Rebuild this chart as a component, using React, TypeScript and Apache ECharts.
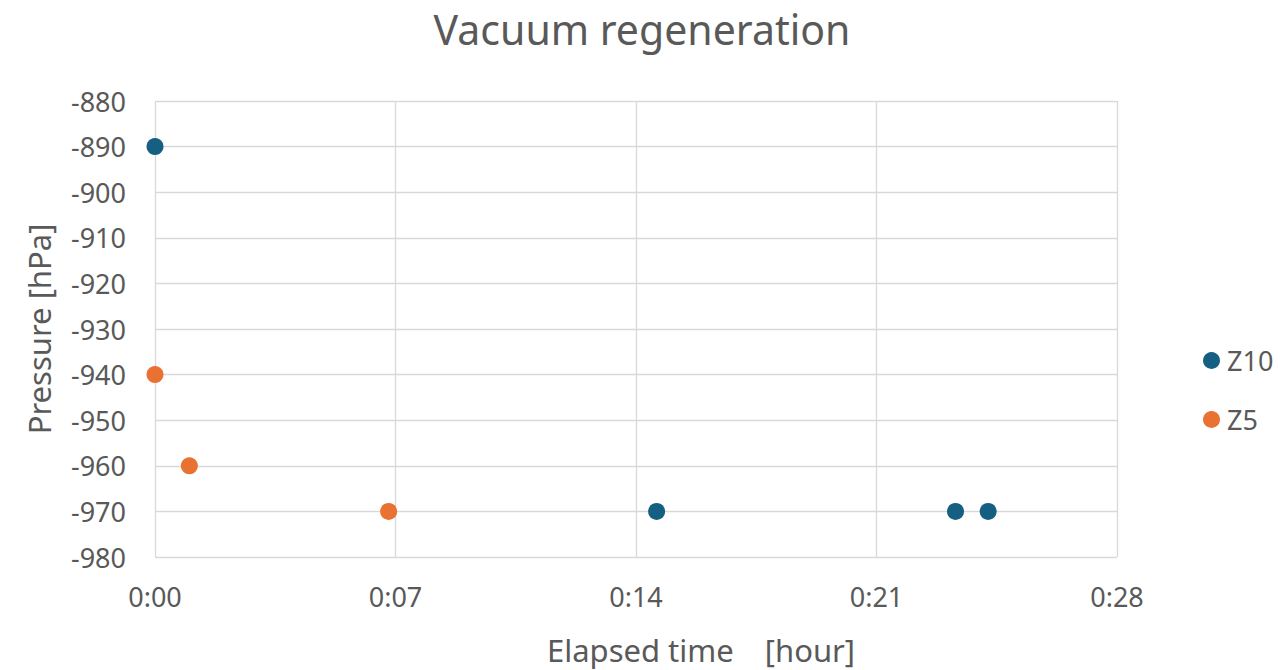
import React, { useEffect, useRef } from "react";
import * as echarts from "echarts";

// Elapsed time in minutes, pressure in hPa
const z10Minutes = [0, 14.6, 23.3, 24.25];
const z10Pressure = [-890, -970, -970, -970];
const z5Minutes = [0, 1, 6.8];
const z5Pressure = [-940, -960, -970];

const seriesNames = ["Z10", "Z5"];
const seriesColors = ["#156082", "#E97132"];

const FONT = "'Noto Sans', 'Open Sans', sans-serif";
const TEXT = "#595959";

const fmtTime = (v: number) => {
  const h = Math.floor(v / 60);
  const m = Math.round(v - h * 60);
  return `${h}:${m < 10 ? "0" + m : m}`;
};

export default function App() {
  const ref = useRef<HTMLDivElement>(null);

  useEffect(() => {
    if (!ref.current) return;
    const chart = echarts.init(ref.current, undefined, { renderer: "svg" });
    const pairs = (xs: number[], ys: number[]) => xs.map((x, i) => [x, ys[i]]);
    chart.setOption({
      animation: false,
      backgroundColor: "#ffffff",
      textStyle: { fontFamily: FONT },
      title: {
        text: "Vacuum regeneration",
        left: "center",
        top: 3,
        textStyle: { fontFamily: FONT, fontSize: 41, fontWeight: "normal", color: TEXT },
      },
      grid: { left: 155, right: 167, top: 101, bottom: 108 },
      legend: {
        orient: "vertical",
        left: 1203,
        top: 347,
        padding: 0,
        itemGap: 32,
        itemWidth: 17,
        itemHeight: 17,
        icon: "circle",
        textStyle: { fontFamily: FONT, fontSize: 27, lineHeight: 27, color: TEXT, padding: [0, 0, 0, 2] },
        data: seriesNames,
      },
      xAxis: {
        type: "value",
        min: 0,
        max: 28,
        interval: 7,
        name: "Elapsed time\u3000[hour]",
        nameLocation: "middle",
        nameGap: 77,
        nameTextStyle: { fontFamily: FONT, fontSize: 31, color: TEXT, padding: [0, 0, 0, 130] },
        axisLine: { show: false },
        axisTick: { show: false },
        axisLabel: { formatter: fmtTime, fontSize: 27, color: TEXT, margin: 26, fontFamily: FONT },
        splitLine: { show: true, lineStyle: { color: "#d9d9d9", width: 1.3 } },
      },
      yAxis: {
        type: "value",
        min: -980,
        max: -880,
        interval: 10,
        name: "Pressure [hPa]",
        nameLocation: "middle",
        nameGap: 101,
        nameTextStyle: { fontFamily: FONT, fontSize: 31, color: TEXT },
        axisLine: { show: false },
        axisTick: { show: false },
        axisLabel: { fontSize: 27, color: TEXT, margin: 29, fontFamily: FONT },
        splitLine: { show: true, lineStyle: { color: "#d9d9d9", width: 1.3 } },
      },
      series: [
        {
          name: seriesNames[0],
          type: "scatter",
          symbol: "circle",
          symbolSize: 17,
          itemStyle: { color: seriesColors[0], opacity: 1 },
          data: pairs(z10Minutes, z10Pressure),
          z: 3,
        },
        {
          name: seriesNames[1],
          type: "scatter",
          symbol: "circle",
          symbolSize: 17,
          itemStyle: { color: seriesColors[1], opacity: 1 },
          data: pairs(z5Minutes, z5Pressure),
          z: 4,
        },
      ],
    });
    return () => chart.dispose();
  }, []);

  return (
    <div
      ref={ref}
      style={{ position: "absolute", left: 0, top: 0, width: 1284, height: 670 }}
    />
  );
}
